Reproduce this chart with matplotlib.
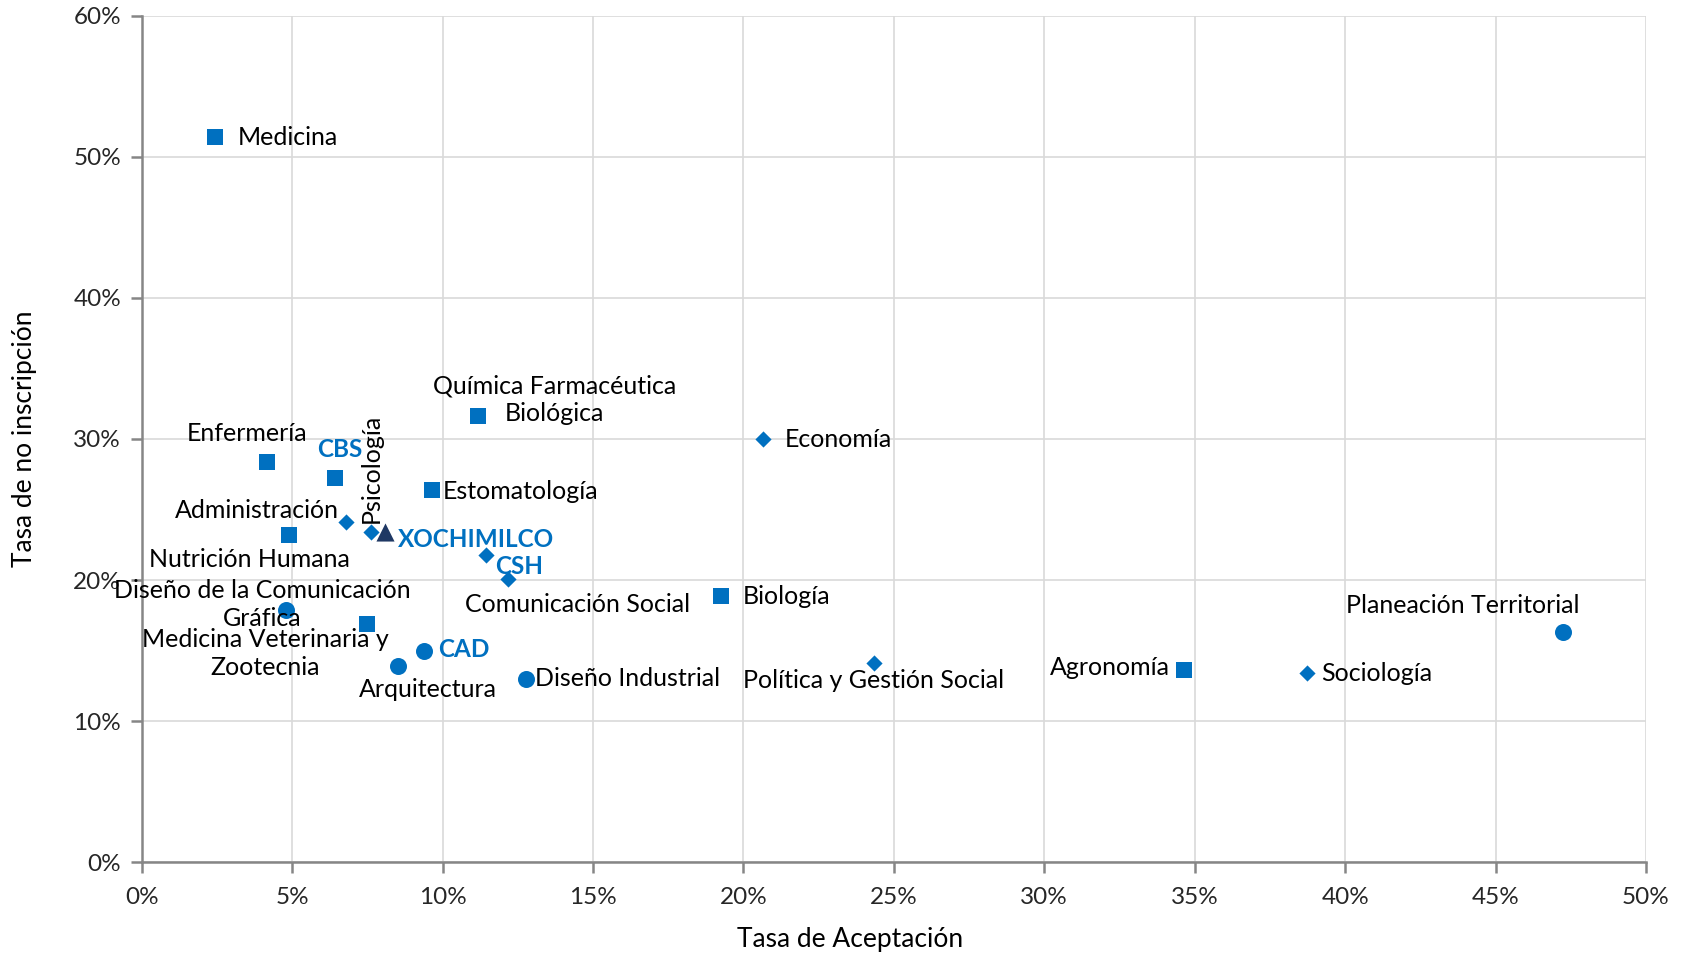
import matplotlib.pyplot as plt
from matplotlib.ticker import PercentFormatter

plt.rcParams['font.family'] = ['Lato', 'DejaVu Sans']

# CBS (cuadrados)
cbs_nombres = ['Medicina', 'Enfermería', 'CBS', 'Nutrición Humana', 'Estomatología',
               'Química Farmacéutica\nBiológica', 'Biología', 'Medicina Veterinaria y\nZootecnia',
               'Agronomía']
cbs_x = [2.43, 4.15, 6.41, 4.90, 9.63, 11.17, 19.26, 7.48, 34.65]
cbs_y = [51.4, 28.4, 27.2, 23.2, 26.4, 31.6, 18.9, 16.9, 13.6]

# CSH (rombos)
csh_nombres = ['Psicología', 'Administración', 'Economía', 'CSH', 'Comunicación Social',
               'Política y Gestión Social', 'Sociología']
csh_x = [7.62, 6.80, 20.65, 11.45, 12.17, 24.34, 38.73]
csh_y = [23.4, 24.1, 30.0, 21.8, 20.1, 14.1, 13.4]

# CAD (circulos)
cad_nombres = ['Diseño de la Comunicación\nGráfica', 'CAD', 'Arquitectura', 'Diseño Industrial',
               'Planeación Territorial']
cad_x = [4.80, 9.38, 8.52, 12.78, 47.24]
cad_y = [17.9, 15.0, 13.9, 13.0, 16.3]

# Unidad
uni_nombres = ['XOCHIMILCO']
uni_x = [8.09]
uni_y = [23.4]

azul = '#0070C0'
resaltar = {'CBS', 'CSH', 'CAD', 'XOCHIMILCO'}

# desplazamiento de etiquetas en pixeles (dx, dy, ha)
offsets = {
    'Medicina': (23, 0, 'left'),
    'Enfermería': (-20, 28, 'center'),
    'CBS': (5, 29, 'center'),
    'Nutrición Humana': (-40, -25, 'center'),
    'Estomatología': (11, -2, 'left'),
    'Química Farmacéutica\nBiológica': (77, 17, 'center'),
    'Biología': (22, -1, 'left'),
    'Medicina Veterinaria y\nZootecnia': (-102, -30, 'center'),
    'Agronomía': (-14, 3, 'right'),
    'Psicología': (0, 64, 'center'),
    'Administración': (-8, 12, 'right'),
    'Economía': (22, -1, 'left'),
    'CSH': (9, -12, 'left'),
    'Comunicación Social': (70, -26, 'center'),
    'Política y Gestión Social': (0, -17, 'center'),
    'Sociología': (14, 0, 'left'),
    'Diseño de la Comunicación\nGráfica': (-24, 5, 'center'),
    'CAD': (14, 1, 'left'),
    'Arquitectura': (30, -23, 'center'),
    'Diseño Industrial': (9, 0, 'left'),
    'Planeación Territorial': (-100, 27, 'center'),
    'XOCHIMILCO': (13, -7, 'left'),
}

fig = plt.figure(figsize=(16.89, 9.56), dpi=100)
ax = fig.add_axes([0.084, 0.0983, 0.8905, 0.885])

ax.scatter(cbs_x, cbs_y, marker='s', s=135, color=azul, zorder=3, linewidths=0)
ax.scatter(csh_x, csh_y, marker='D', s=68, color=azul, zorder=3, linewidths=0)
ax.scatter(cad_x, cad_y, marker='o', s=150, color=azul, zorder=3, linewidths=0)
ax.scatter(uni_x, uni_y, marker='^', s=170, color='#1F3864', zorder=3, linewidths=0)

grupos = [(cbs_nombres, cbs_x, cbs_y), (csh_nombres, csh_x, csh_y),
          (cad_nombres, cad_x, cad_y), (uni_nombres, uni_x, uni_y)]
for nombres, xs, ys in grupos:
    for n, x, y in zip(nombres, xs, ys):
        dx, dy, ha = offsets[n]
        if n in resaltar:
            ax.annotate(n, (x, y), xytext=(dx, dy), textcoords='offset pixels',
                        ha=ha, va='center', fontsize=17.5, color=azul, fontweight='bold')
        elif n == 'Psicología':
            ax.annotate(n, (x, y), xytext=(dx, dy), textcoords='offset pixels',
                        ha='center', va='center', rotation=90, fontsize=18, color='black')
        else:
            ax.annotate(n, (x, y), xytext=(dx, dy), textcoords='offset pixels',
                        ha=ha, va='center', fontsize=18, color='black',
                        multialignment='center', linespacing=1.25)

ax.set_xlim(0, 50)
ax.set_ylim(0, 60)
ax.set_xticks(range(0, 51, 5))
ax.set_yticks(range(0, 61, 10))
ax.xaxis.set_major_formatter(PercentFormatter(decimals=0))
ax.yaxis.set_major_formatter(PercentFormatter(decimals=0))
ax.grid(True, color='#D9D9D9', linewidth=1.2)
ax.set_axisbelow(True)
for s in ['top', 'right']:
    ax.spines[s].set_visible(False)
for s in ['left', 'bottom']:
    ax.spines[s].set_color('#868686')
    ax.spines[s].set_linewidth(1.8)
ax.tick_params(axis='both', color='#868686', width=1.8, length=8, labelsize=17.5,
               labelcolor='#262626', direction='out')
ax.tick_params(axis='x', pad=10)
ax.tick_params(axis='y', pad=7)

ax.set_xlabel('Tasa de Aceptación', fontsize=19, color='black', va='center')
ax.set_ylabel('Tasa de no inscripción', fontsize=19, color='black', va='center')
ax.xaxis.set_label_coords(0.471, -0.091)
ax.yaxis.set_label_coords(-0.078, 0.5)

fig.savefig('out.png', dpi=100)
